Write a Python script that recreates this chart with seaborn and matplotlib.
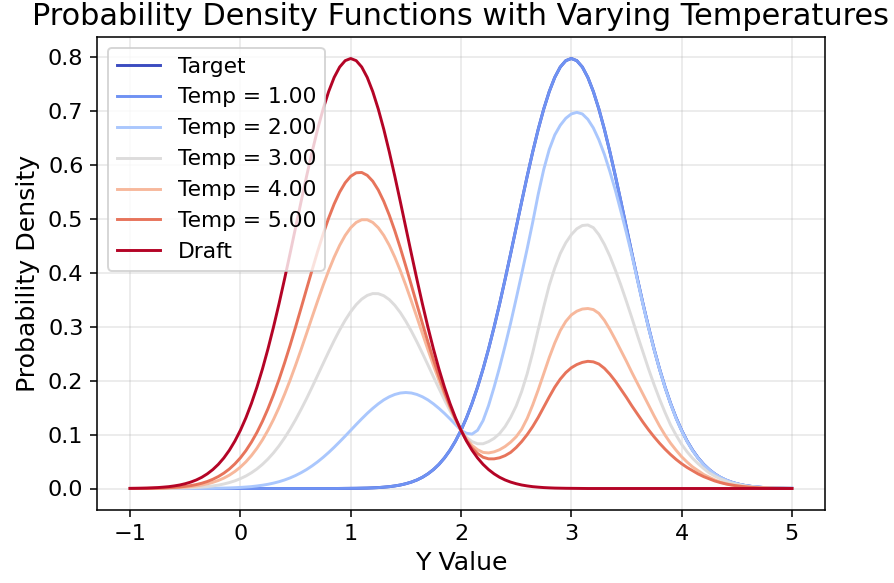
import numpy as np
import pandas as pd
import matplotlib
matplotlib.use("Agg")
import matplotlib.pyplot as plt
import seaborn as sns

# grid of Y values (-1 .. 5, step 0.05)
y_grid = np.round(np.linspace(-1, 5, 121), 2)

target = [0.0] * 38 + [
    0.0001, 0.0002,
    0.0003, 0.0004, 0.0006, 0.0008, 0.0012, 0.0017, 0.0025, 0.0034, 0.0048, 0.0065,
    0.0089, 0.0119, 0.0158, 0.0208, 0.0272, 0.0351, 0.0448, 0.0567, 0.0710, 0.0880,
    0.1080, 0.1312, 0.1579, 0.1881, 0.2218, 0.2590, 0.2995, 0.3427, 0.3884, 0.4357,
    0.4839, 0.5322, 0.5794, 0.6245, 0.6665, 0.7041, 0.7365, 0.7628, 0.7821, 0.7939,
    0.7979,
    0.7939, 0.7821, 0.7628, 0.7365, 0.7041, 0.6665, 0.6245, 0.5794, 0.5322, 0.4839,
    0.4357, 0.3884, 0.3427, 0.2995, 0.2590, 0.2218, 0.1881, 0.1579, 0.1312, 0.1080,
    0.0880, 0.0710, 0.0567, 0.0448, 0.0351, 0.0272, 0.0208, 0.0158, 0.0119, 0.0089,
    0.0065, 0.0048, 0.0034, 0.0025, 0.0017, 0.0012, 0.0008, 0.0006, 0.0004, 0.0003]

temp_1 = [0.0] * 38 + [
    0.0001, 0.0002,
    0.0003, 0.0004, 0.0006, 0.0008, 0.0012, 0.0017, 0.0025, 0.0034, 0.0048, 0.0065,
    0.0089, 0.0119, 0.0158, 0.0208, 0.0272, 0.0351, 0.0448, 0.0567, 0.0710, 0.0880,
    0.1080, 0.1312, 0.1579, 0.1881, 0.2218, 0.2590, 0.2995, 0.3427, 0.3884, 0.4357,
    0.4839, 0.5322, 0.5794, 0.6245, 0.6665, 0.7041, 0.7365, 0.7628, 0.7821, 0.7939,
    0.7979,
    0.7939, 0.7821, 0.7628, 0.7365, 0.7041, 0.6665, 0.6245, 0.5794, 0.5322, 0.4839,
    0.4357, 0.3884, 0.3427, 0.2995, 0.2590, 0.2218, 0.1881, 0.1579, 0.1312, 0.1080,
    0.0880, 0.0710, 0.0567, 0.0448, 0.0351, 0.0272, 0.0208, 0.0158, 0.0119, 0.0089,
    0.0065, 0.0048, 0.0034, 0.0025, 0.0017, 0.0012, 0.0008, 0.0006, 0.0004, 0.0003]

temp_2 = [
    0.0, 0.0, 0.0, 0.0, 0.0, 0.0, 0.0, 0.0, 0.0, 0.0,
    0.0001, 0.0001, 0.0001, 0.0002, 0.0003, 0.0004, 0.0006, 0.0008, 0.0011, 0.0015,
    0.0020, 0.0027, 0.0035, 0.0047, 0.0061, 0.0078, 0.0100, 0.0126, 0.0158, 0.0196,
    0.0241, 0.0293, 0.0352, 0.0420, 0.0495, 0.0578, 0.0668, 0.0765, 0.0867, 0.0972,
    0.1080, 0.1188, 0.1293, 0.1394, 0.1487, 0.1571, 0.1644, 0.1702, 0.1745, 0.1772,
    0.1781, 0.1772, 0.1745, 0.1702, 0.1644, 0.1571, 0.1487, 0.1394, 0.1293, 0.1188,
    0.1080,
    0.1025, 0.1010, 0.108, 0.126, 0.154, 0.188, 0.225, 0.265, 0.307, 0.352,
    0.398, 0.445, 0.494, 0.546, 0.592, 0.629, 0.656, 0.674, 0.687, 0.695,
    0.698, 0.695, 0.685, 0.669, 0.647, 0.620, 0.588, 0.553, 0.514, 0.474,
    0.432, 0.386, 0.341, 0.298, 0.258, 0.221, 0.187, 0.157, 0.130, 0.107,
    0.087, 0.070, 0.056, 0.044, 0.035, 0.027, 0.021, 0.016, 0.012, 0.009,
    0.0065, 0.0048, 0.0034, 0.0025, 0.0017, 0.0012, 0.0008, 0.0006, 0.0004, 0.0003]

temp_3 = [
    0.0000, 0.0000, 0.0000, 0.0001, 0.0001, 0.0002, 0.0002, 0.0003, 0.0005, 0.0007,
    0.0010, 0.0013, 0.0019, 0.0026, 0.0035, 0.0048, 0.0063, 0.0084, 0.0110, 0.0142,
    0.0183, 0.0232, 0.0292, 0.0363, 0.0448, 0.0547, 0.0661, 0.0791, 0.0937, 0.1099,
    0.1276, 0.1467, 0.1669, 0.1881, 0.2099, 0.2318, 0.2535, 0.2745, 0.2942, 0.3122,
    0.3280, 0.3412, 0.3514, 0.3583, 0.3617, 0.3615, 0.3577, 0.3505, 0.3399, 0.3264,
    0.3103, 0.2921, 0.2722, 0.2511, 0.2294, 0.2074, 0.1857, 0.1646, 0.1445, 0.1255,
    0.1080,
    0.095, 0.087, 0.083, 0.083, 0.087, 0.093, 0.102, 0.115, 0.132, 0.153,
    0.180, 0.213, 0.252, 0.295, 0.337, 0.377, 0.409, 0.436, 0.456, 0.471,
    0.482, 0.488, 0.489, 0.484, 0.471, 0.453, 0.431, 0.405, 0.377, 0.347,
    0.316, 0.284, 0.253, 0.222, 0.193, 0.166, 0.141, 0.118, 0.099, 0.082,
    0.068, 0.056, 0.046, 0.037, 0.029, 0.023, 0.018, 0.014, 0.010, 0.008,
    0.006, 0.004, 0.003, 0.002, 0.0015, 0.001, 0.0007, 0.0005, 0.0003, 0.0002]

temp_4 = [
    0.0001, 0.0001, 0.0001, 0.0002, 0.0003, 0.0004, 0.0006, 0.0009, 0.0013, 0.0018,
    0.0025, 0.0035, 0.0048, 0.0064, 0.0086, 0.0114, 0.0149, 0.0193, 0.0248, 0.0316,
    0.0397, 0.0495, 0.0611, 0.0746, 0.0902, 0.1080, 0.1280, 0.1502, 0.1745, 0.2007,
    0.2286, 0.2577, 0.2877, 0.3180, 0.3479, 0.3769, 0.4042, 0.4292, 0.4512, 0.4696,
    0.4839, 0.4937, 0.4987, 0.4987, 0.4937, 0.4839, 0.4696, 0.4512, 0.4292, 0.4042,
    0.3769, 0.3479, 0.3180, 0.2877, 0.2577, 0.2286, 0.2007, 0.1745, 0.1502, 0.1280,
    0.1080,
    0.092, 0.080, 0.072, 0.067, 0.066, 0.068, 0.072, 0.078, 0.086, 0.096,
    0.110, 0.130, 0.155, 0.183, 0.213, 0.243, 0.270, 0.293, 0.310, 0.322,
    0.329, 0.333, 0.334, 0.332, 0.325, 0.312, 0.295, 0.276, 0.256, 0.236,
    0.215, 0.195, 0.175, 0.155, 0.135, 0.116, 0.099, 0.084, 0.071, 0.059,
    0.049, 0.040, 0.033, 0.026, 0.021, 0.016, 0.012, 0.009, 0.007, 0.005,
    0.0037, 0.0027, 0.0019, 0.0013, 0.0009, 0.0006, 0.0004, 0.0003, 0.0002, 0.0001]

temp_5 = [
    0.0001, 0.0002, 0.0002, 0.0003, 0.0005, 0.0007, 0.0010, 0.0015, 0.0021, 0.0029,
    0.0040, 0.0054, 0.0073, 0.0098, 0.0130, 0.0171, 0.0222, 0.0285, 0.0362, 0.0457,
    0.0569, 0.0703, 0.0860, 0.1040, 0.1247, 0.1480, 0.1738, 0.2021, 0.2328, 0.2653,
    0.2995, 0.3346, 0.3702, 0.4054, 0.4397, 0.4720, 0.5017, 0.5279, 0.5500, 0.5673,
    0.5794, 0.5858, 0.5864, 0.5811, 0.5702, 0.5539, 0.5327, 0.5072, 0.4782, 0.4463,
    0.4124, 0.3773, 0.3417, 0.3064, 0.2721, 0.2391, 0.2081, 0.1793, 0.1529, 0.1292,
    0.1080,
    0.089, 0.075, 0.065, 0.058, 0.055, 0.055, 0.057, 0.061, 0.067, 0.076,
    0.087, 0.100, 0.115, 0.132, 0.151, 0.170, 0.188, 0.203, 0.215, 0.224,
    0.230, 0.234, 0.236, 0.235, 0.231, 0.223, 0.212, 0.199, 0.184, 0.169,
    0.153, 0.138, 0.123, 0.109, 0.096, 0.084, 0.073, 0.063, 0.054, 0.046,
    0.039, 0.033, 0.027, 0.022, 0.018, 0.014, 0.011, 0.0085, 0.0065, 0.005,
    0.0037, 0.0027, 0.0019, 0.0013, 0.0009, 0.0006, 0.0004, 0.0003, 0.0002, 0.0001]

draft = [
    0.0003, 0.0004, 0.0006, 0.0008, 0.0012, 0.0017, 0.0025, 0.0034, 0.0048, 0.0065,
    0.0089, 0.0119, 0.0158, 0.0208, 0.0272, 0.0351, 0.0448, 0.0567, 0.0710, 0.0880,
    0.1080, 0.1312, 0.1579, 0.1881, 0.2218, 0.2590, 0.2995, 0.3427, 0.3884, 0.4357,
    0.4839, 0.5322, 0.5794, 0.6245, 0.6665, 0.7041, 0.7365, 0.7628, 0.7821, 0.7939,
    0.7979,
    0.7939, 0.7821, 0.7628, 0.7365, 0.7041, 0.6665, 0.6245, 0.5794, 0.5322, 0.4839,
    0.4357, 0.3884, 0.3427, 0.2995, 0.2590, 0.2218, 0.1881, 0.1579, 0.1312, 0.1080,
    0.0880, 0.0710, 0.0567, 0.0448, 0.0351, 0.0272, 0.0208, 0.0158, 0.0119, 0.0089,
    0.0065, 0.0048, 0.0034, 0.0025, 0.0017, 0.0012, 0.0008, 0.0006, 0.0004, 0.0003,
    0.0002, 0.0001] + [0.0] * 38

labels = ["Target", "Temp = 1.00", "Temp = 2.00", "Temp = 3.00",
          "Temp = 4.00", "Temp = 5.00", "Draft"]
series = [target, temp_1, temp_2, temp_3, temp_4, temp_5, draft]

for lab, vals in zip(labels, series):
    assert len(vals) == len(y_grid), (lab, len(vals))

frames = [pd.DataFrame({"y_value": y_grid, "density": vals, "curve": lab})
          for lab, vals in zip(labels, series)]
df = pd.concat(frames, ignore_index=True)

colors = [matplotlib.colormaps["coolwarm"](v) for v in np.linspace(0, 1, 7)]

DPI = 140
fig = plt.figure(figsize=(894 / DPI, 583 / DPI), dpi=DPI)
ax = fig.add_axes([97 / 894, 1 - 510 / 583, (825 - 97) / 894, (510 - 37) / 583])

sns.lineplot(data=df, x="y_value", y="density", hue="curve", hue_order=labels,
             palette=colors, linewidth=1.5, ax=ax, sort=False)

ax.grid(True, alpha=0.3)
ax.tick_params(labelsize=11.5)
ax.set_xlabel("Y Value", fontsize=13)
ax.set_ylabel("Probability Density", fontsize=13)
ax.set_title("Probability Density Functions with Varying Temperatures", fontsize=15.6)
ax.legend(loc="upper left", fontsize=11.2)

fig.savefig("out.png", dpi=DPI)
